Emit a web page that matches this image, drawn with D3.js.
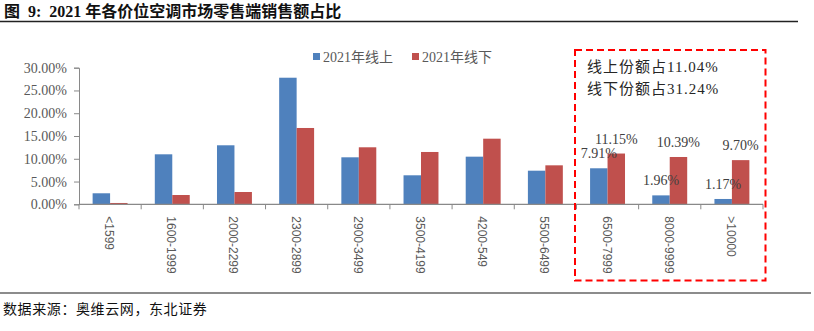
<!DOCTYPE html>
<html>
<head>
<meta charset="utf-8">
<script src="https://cdn.jsdelivr.net/npm/d3@7"></script>
<style>
  html, body { margin: 0; padding: 0; background: #fff; }
  svg { display: block; }
</style>
</head>
<body>
<svg id="chart" width="814" height="331"></svg>
<script>
// Price bands (CNY) and retail share per band, 2021
const categories = ["<1599", "1600-1999", "2000-2299", "2300-2899", "2900-3499", "3500-4199", "4200-549", "5500-6499", "6500-7999", "8000-9999", ">10000"];
const online  = [2.42, 10.98, 12.96, 27.80, 10.32, 6.37, 10.46, 7.38, 7.91, 1.96, 1.17];
const offline = [0.29, 2.04, 2.70, 16.76, 12.52, 11.49, 14.41, 8.56, 11.15, 10.39, 9.70];
const seriesNames = ["2021年线上", "2021年线下"];
const yTicks = [0, 5, 10, 15, 20, 25, 30];
const highlightFrom = 8; // first band inside the dashed box
const noteLines = ["线上份额占11.04%", "线下份额占31.24%"];

const colors = ["#4f81bd", "#c0504d"];
const serif = "'Liberation Serif', 'Times New Roman', 'Noto Sans CJK SC', serif";
const sans = "'Liberation Sans', Arial, sans-serif";

const svg = d3.select("#chart");

// Title and rule
svg.append("text")
  .attr("x", 4).attr("y", 17)
  .attr("font-family", serif)
  .attr("font-weight", "bold")
  .attr("font-size", 16)
  .attr("fill", "#111")
  .attr("xml:space", "preserve")
  .text("图  9:  2021 年各价位空调市场零售端销售额占比");
svg.append("line")
  .attr("x1", 0).attr("x2", 798).attr("y1", 21.5).attr("y2", 21.5)
  .attr("stroke", "#222").attr("stroke-width", 1.5);

// Source footer
svg.append("line")
  .attr("x1", 0).attr("x2", 811).attr("y1", 293).attr("y2", 293)
  .attr("stroke", "#8c8c8c").attr("stroke-width", 2);
svg.append("text")
  .attr("x", 3).attr("y", 314)
  .attr("font-family", "'Noto Sans CJK SC', sans-serif")
  .attr("font-size", 14)
  .attr("letter-spacing", 0.6)
  .attr("fill", "#111")
  .text("数据来源：奥维云网，东北证券");

// Scales
const x0 = d3.scaleBand().domain(categories).range([79, 763]).paddingInner(0).paddingOuter(0);
const x1 = d3.scaleBand().domain([0, 1]).range([0, x0.bandwidth()]).paddingInner(0).paddingOuter(0.78);
const y = d3.scaleLinear().domain([0, 30]).range([204.3, 67.7]);

// Y axis
const yAxis = d3.axisLeft(y).tickValues(yTicks).tickSize(5).tickFormat(d => d.toFixed(2) + "%");
const gy = svg.append("g").attr("transform", "translate(79,0)").call(yAxis);
gy.select(".domain").attr("stroke", "#898989");
gy.selectAll(".tick line").attr("stroke", "#898989");
gy.selectAll(".tick text")
  .attr("font-family", serif).attr("font-size", 14).attr("fill", "#595959")
  .attr("x", -12);

// Bars
const groups = svg.append("g").selectAll("g")
  .data(categories)
  .join("g")
  .attr("transform", d => `translate(${x0(d)},0)`);
[online, offline].forEach((vals, s) => {
  groups.append("rect")
    .attr("x", x1(s))
    .attr("width", x1.bandwidth())
    .attr("y", (d, i) => y(vals[i]))
    .attr("height", (d, i) => y(0) - y(vals[i]))
    .attr("fill", colors[s]);
});

// X axis with ticks between bands
const gx = svg.append("g").attr("transform", `translate(0,${y(0)})`);
gx.append("line")
  .attr("x1", 79).attr("x2", 763).attr("y1", 0).attr("y2", 0)
  .attr("stroke", "#898989").attr("stroke-width", 1.2);
const bounds = categories.map(c => x0(c)).concat([x0.range()[1]]);
gx.selectAll(".tk").data(bounds).join("line")
  .attr("x1", d => d).attr("x2", d => d).attr("y1", 0).attr("y2", 5)
  .attr("stroke", "#898989");
gx.selectAll(".lbl").data(categories).join("text")
  .attr("transform", d => `translate(${x0(d) + x0.bandwidth() / 2 - 1},12) rotate(90)`)
  .attr("text-anchor", "start")
  .attr("dominant-baseline", "central")
  .attr("font-family", sans).attr("font-size", 12).attr("fill", "#595959")
  .text(d => d);

// Value labels for the highlighted bands
const hl = categories.slice(highlightFrom);
[online, offline].forEach((vals, s) => {
  svg.append("g").selectAll("text")
    .data(hl)
    .join("text")
    .attr("x", d => x0(d) + x1(s) + x1.bandwidth() / 2)
    .attr("y", (d, i) => y(vals[highlightFrom + i]) - 10)
    .attr("text-anchor", "middle")
    .attr("font-family", serif).attr("font-size", 14).attr("fill", "#404040")
    .text((d, i) => vals[highlightFrom + i].toFixed(2) + "%");
});

// Dashed highlight box with share note
svg.append("rect")
  .attr("x", 575).attr("y", 50).attr("width", 190.5).attr("height", 230.5)
  .attr("fill", "none").attr("stroke", "#ff0000").attr("stroke-width", 2)
  .attr("stroke-dasharray", "7,4");
svg.append("g").selectAll("text").data(noteLines).join("text")
  .attr("x", 587).attr("y", (d, i) => 72 + i * 21.5)
  .attr("font-family", serif).attr("font-size", 15).attr("letter-spacing", 1)
  .attr("fill", "#262626")
  .text(d => d);

// Legend
const legend = svg.append("g").selectAll("g").data(seriesNames).join("g")
  .attr("transform", (d, i) => `translate(${313 + i * 99},0)`);
legend.append("rect")
  .attr("x", 0).attr("y", 53).attr("width", 7).attr("height", 7)
  .attr("fill", (d, i) => colors[i]);
legend.append("text")
  .attr("x", 10).attr("y", 62)
  .attr("font-family", serif).attr("font-size", 14).attr("fill", "#595959")
  .text(d => d);
</script>
</body>
</html>
